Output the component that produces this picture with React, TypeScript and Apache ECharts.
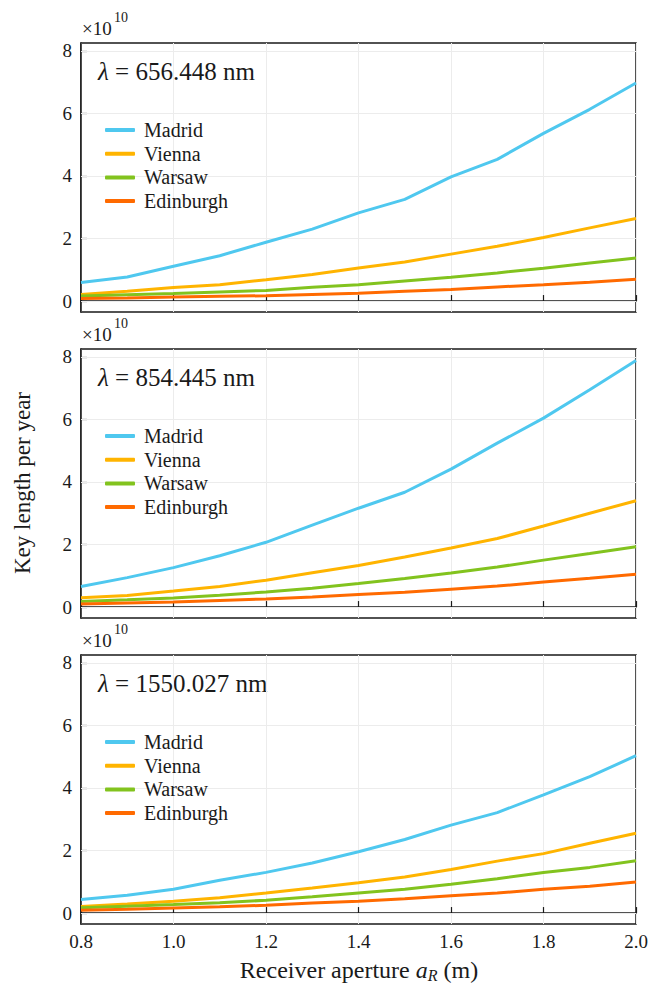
import React, { useEffect, useRef } from "react";
import * as echarts from "echarts";

const xs = [0.8, 0.9, 1.0, 1.1, 1.2, 1.3, 1.4, 1.5, 1.6, 1.7, 1.8, 1.9, 2.0];
const cities = ["Madrid", "Vienna", "Warsaw", "Edinburgh"];
const colors = ["#4fc8ef", "#ffb400", "#82c31e", "#ff6a00"];
const wavelengths = ["656.448", "854.445", "1550.027"];
const yTicks = [0, 2, 4, 6, 8];

// values in units of 1e10
const p1Madrid = [0.59, 0.77, 1.11, 1.45, 1.88, 2.3, 2.82, 3.25, 3.97, 4.53, 5.36, 6.13, 6.97];
const p1Vienna = [0.21, 0.31, 0.43, 0.52, 0.68, 0.85, 1.06, 1.25, 1.5, 1.75, 2.03, 2.34, 2.64];
const p1Warsaw = [0.16, 0.2, 0.24, 0.29, 0.34, 0.44, 0.52, 0.64, 0.76, 0.9, 1.05, 1.22, 1.38];
const p1Edinburgh = [0.08, 0.1, 0.13, 0.15, 0.17, 0.21, 0.25, 0.31, 0.37, 0.45, 0.52, 0.6, 0.7];

const p2Madrid = [0.66, 0.94, 1.26, 1.64, 2.07, 2.62, 3.16, 3.67, 4.41, 5.24, 6.04, 6.95, 7.88];
const p2Vienna = [0.3, 0.37, 0.51, 0.66, 0.86, 1.1, 1.33, 1.6, 1.89, 2.19, 2.59, 3.0, 3.4];
const p2Warsaw = [0.18, 0.23, 0.29, 0.38, 0.48, 0.6, 0.75, 0.91, 1.09, 1.28, 1.5, 1.71, 1.93];
const p2Edinburgh = [0.1, 0.13, 0.16, 0.21, 0.26, 0.32, 0.4, 0.47, 0.57, 0.67, 0.8, 0.92, 1.05];

const p3Madrid = [0.43, 0.57, 0.76, 1.05, 1.3, 1.6, 1.96, 2.35, 2.81, 3.21, 3.78, 4.36, 5.03];
const p3Vienna = [0.21, 0.29, 0.38, 0.49, 0.64, 0.8, 0.97, 1.15, 1.39, 1.66, 1.9, 2.23, 2.55];
const p3Warsaw = [0.17, 0.22, 0.27, 0.33, 0.41, 0.52, 0.64, 0.76, 0.92, 1.1, 1.3, 1.46, 1.67];
const p3Edinburgh = [0.09, 0.12, 0.16, 0.2, 0.25, 0.32, 0.38, 0.46, 0.55, 0.64, 0.76, 0.86, 0.99];

const panels = [
  [p1Madrid, p1Vienna, p1Warsaw, p1Edinburgh],
  [p2Madrid, p2Vienna, p2Warsaw, p2Edinburgh],
  [p3Madrid, p3Vienna, p3Warsaw, p3Edinburgh],
];

const FONT = "'Liberation Serif', 'Times New Roman', serif";
const TOPS = [43, 349, 655];
const GRID_H = 269;
const GRID_LEFT = 81;
const GRID_RIGHT = 17;

export default function App() {
  const ref = useRef<HTMLDivElement>(null);
  useEffect(() => {
    if (!ref.current) return;
    const chart = echarts.init(ref.current, null, { renderer: "svg" });

    const grid = TOPS.map((t) => ({
      left: GRID_LEFT,
      right: GRID_RIGHT,
      top: t,
      height: GRID_H,
      show: true,
      borderColor: "#1a1a1a",
      borderWidth: 1.5,
      backgroundColor: "transparent",
    }));

    const xAxis = TOPS.map((_, i) => ({
      type: "value",
      gridIndex: i,
      min: 0.8,
      max: 2.0,
      interval: 0.2,
      axisLine: { show: true, lineStyle: { color: "#1a1a1a", width: 1.5 } },
      axisTick: { show: true, inside: true, length: 6, lineStyle: { color: "#1a1a1a", width: 1.2 } },
      axisLabel: {
        show: i === 2,
        formatter: (v: number) => v.toFixed(1),
        fontFamily: FONT,
        fontSize: 19,
        color: "#1a1a1a",
        margin: 8,
      },
      splitLine: { show: true, lineStyle: { color: "#ececec", width: 1 } },
    }));

    const yAxis = TOPS.map((_, i) => ({
      type: "value",
      gridIndex: i,
      min: -0.35,
      max: 8.25,
      axisLine: { show: true, lineStyle: { color: "#1a1a1a", width: 1.5 } },
      axisTick: {
        show: true,
        inside: true,
        length: 6,
        customValues: yTicks,
        lineStyle: { color: "#1a1a1a", width: 1.2 },
      },
      axisLabel: {
        show: true,
        customValues: yTicks,
        formatter: (v: number) => String(Math.round(v)),
        fontFamily: FONT,
        fontSize: 19,
        color: "#1a1a1a",
        margin: 9,
      },
      splitLine: { show: false },
    }));

    const series: any[] = [];
    panels.forEach((panel, pi) => {
      panel.forEach((vals, ci) => {
        const s: any = {
          type: "line",
          name: cities[ci],
          xAxisIndex: pi,
          yAxisIndex: pi,
          data: xs.map((x, k) => [x, vals[k]]),
          symbol: "none",
          lineStyle: { color: colors[ci], width: 3 },
          itemStyle: { color: colors[ci] },
          z: 3,
        };
        if (ci === 0) {
          s.markLine = {
            silent: true,
            symbol: "none",
            z: 1,
            label: { show: false },
            lineStyle: { color: "#ececec", width: 1, type: "solid" },
            emphasis: { disabled: true },
            data: yTicks.map((v) => ({ yAxis: v })),
          };
        }
        series.push(s);
      });
    });

    const legend = TOPS.map((t) => ({
      left: 105,
      top: t + 77,
      padding: 0,
      orient: "vertical",
      icon: "roundRect",
      itemWidth: 30,
      itemHeight: 4,
      itemGap: 3.7,
      data: cities,
      selectedMode: false,
      textStyle: {
        fontFamily: FONT,
        fontSize: 20,
        lineHeight: 18,
        color: "#1a1a1a",
        padding: [0, 0, 0, 4],
      },
    }));

    const graphic: any[] = [];
    TOPS.forEach((t, i) => {
      graphic.push({
        type: "text",
        left: 82,
        top: t - 24,
        style: {
          text: "×10",
          font: `19px ${FONT}`,
          fill: "#1a1a1a",
        },
      });
      graphic.push({
        type: "text",
        left: 114,
        top: t - 33,
        style: {
          text: "10",
          font: `14px ${FONT}`,
          fill: "#1a1a1a",
        },
      });
      graphic.push({
        type: "text",
        left: 98,
        top: t + 16,
        style: {
          text: `{i|λ}{n| = ${wavelengths[i]} nm}`,
          rich: {
            i: { fontFamily: FONT, fontStyle: "italic", fontSize: 25, fill: "#1a1a1a" },
            n: { fontFamily: FONT, fontSize: 25, fill: "#1a1a1a" },
          },
        },
      });
    });
    graphic.push({
      type: "text",
      x: 22,
      y: 483,
      rotation: Math.PI / 2,
      style: {
        text: "Key length per year",
        font: `23px ${FONT}`,
        fill: "#1a1a1a",
        align: "center",
        verticalAlign: "middle",
      },
    });
    graphic.push({
      type: "text",
      x: 359,
      y: 970,
      style: {
        text: "{n|Receiver aperture }{i|a}{s|R}{n| (m)}",
        align: "center",
        verticalAlign: "middle",
        rich: {
          n: { fontFamily: FONT, fontSize: 24, lineHeight: 26, fill: "#1a1a1a" },
          i: { fontFamily: FONT, fontSize: 24, lineHeight: 26, fontStyle: "italic", fill: "#1a1a1a" },
          s: {
            fontFamily: FONT,
            fontSize: 16,
            lineHeight: 13,
            fontStyle: "italic",
            fill: "#1a1a1a",
            verticalAlign: "bottom",
          },
        },
      },
    });

    chart.setOption({
      animation: false,
      backgroundColor: "#ffffff",
      grid,
      xAxis,
      yAxis,
      series,
      legend,
      graphic,
    });
    return () => chart.dispose();
  }, []);

  return (
    <div
      ref={ref}
      style={{ position: "fixed", left: 0, top: 0, width: 653, height: 988, background: "#fff" }}
    />
  );
}
